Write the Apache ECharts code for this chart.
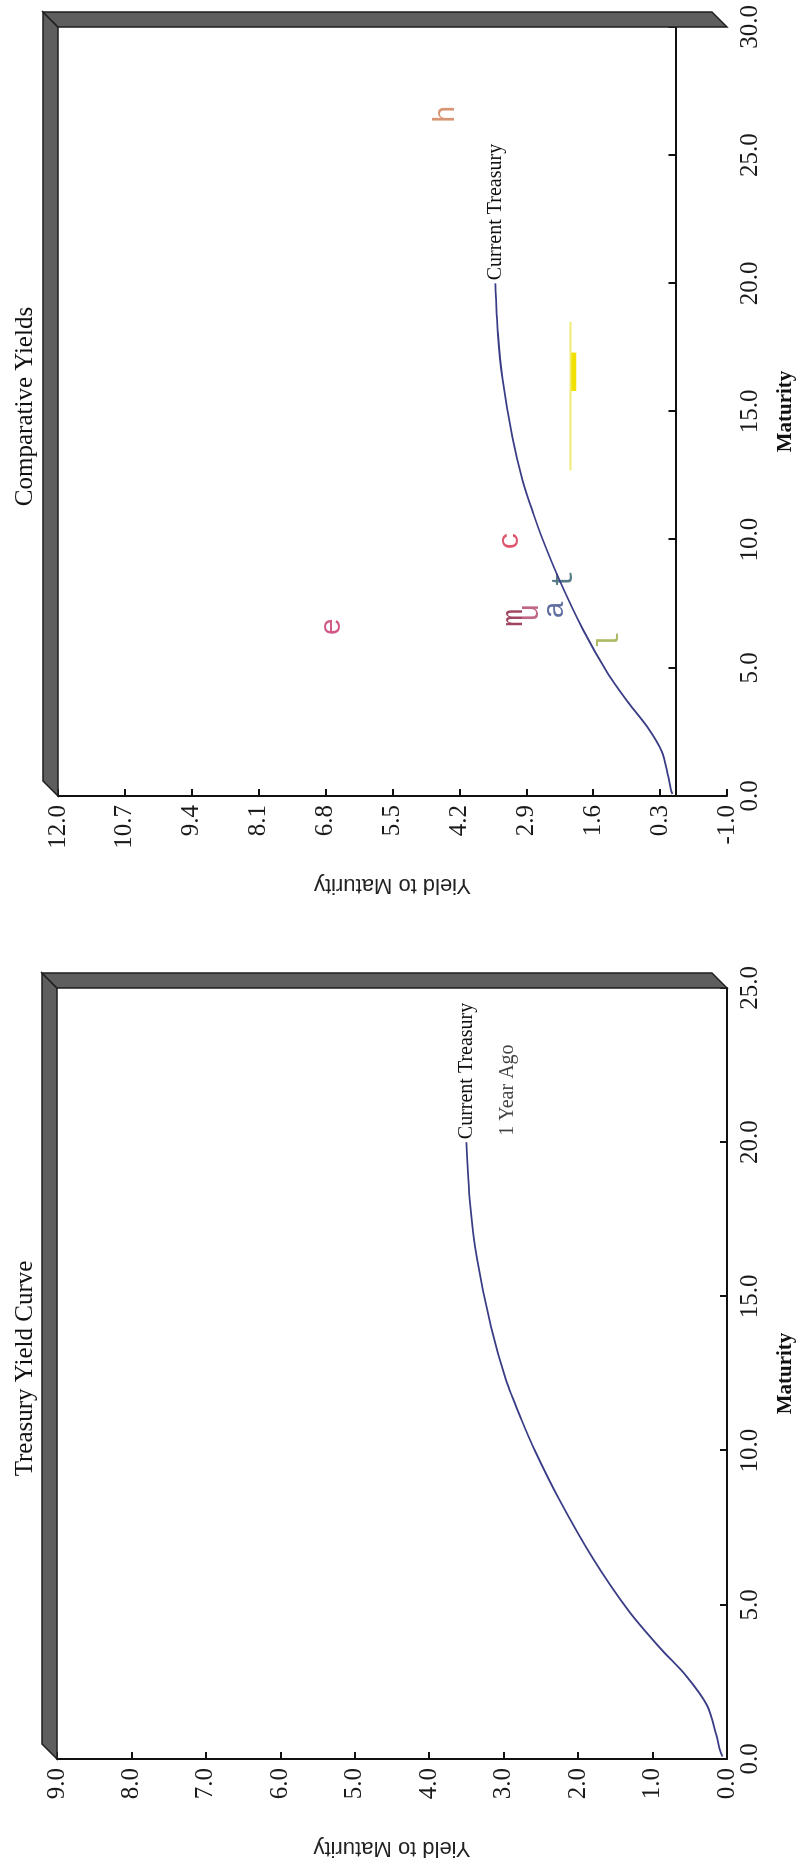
<!DOCTYPE html>
<html><head><meta charset="utf-8">
<script src="https://cdn.jsdelivr.net/npm/echarts@6/dist/echarts.min.js"></script>
<style>
html,body{margin:0;padding:0;background:#fff;overflow:hidden;width:811px;height:1868px;}
#chart{position:absolute;left:0;top:0;width:1868px;height:811px;transform-origin:0 0;transform:translate(0,1868px) rotate(-90deg);background:#fff;}
</style></head><body><div id="chart"></div>
<script>
// ---- data ----
const curveMaturity = [0.08, 0.25, 0.75, 1.75, 2.7, 3.6, 4.8, 6.5, 8.4, 10.0, 11.0, 12.3, 14.0, 16.25, 18.0, 20.0];
const curveYield    = [0.06, 0.09, 0.14, 0.27, 0.55, 0.90, 1.32, 1.80, 2.25, 2.58, 2.76, 2.97, 3.17, 3.36, 3.45, 3.50];
const yearAgoLabelAt = [20.0, 2.95];
const issueLetters  = ['e', 'm', 'u', 'a', 't', 'c', 'l', 'h'];
const issueMaturity = [6.6, 6.95, 7.15, 7.27, 8.48, 9.96, 6.05, 26.6];
const issueYield    = [6.68, 3.13, 2.83, 2.35, 2.16, 3.22, 1.28, 4.45];
const issueColors   = ['#c8306a', '#8a1838', '#b04068', '#3a4a8a', '#2b5a68', '#d82a4a', '#9aa840', '#d07a50'];
const rangeMaturity = [12.7, 18.5];
const rangeYield    = [2.04, 2.04];
const rangeCoreMaturity = [15.8, 17.3];
const rangeCoreYield    = [1.98, 1.98];
const leftTitle = 'Treasury Yield Curve';
const rightTitle = 'Comparative Yields';

// ---- layout ----
const G0 = {left: 109, top: 57, width: 771, height: 670};
const G1 = {left: 1072, top: 58, width: 769, height: 669};
const D = 15;
const serif = 'Liberation Serif';

const chart = echarts.init(document.getElementById('chart'), null, {renderer: 'canvas', width: 1868, height: 811});

function pairs(xs, ys) { return xs.map((x, i) => [x, ys[i]]); }

function xAx(gi, max) {
  return {
    type: 'value', gridIndex: gi, min: 0, max: max, interval: 5,
    name: 'Maturity', nameLocation: 'middle', nameGap: 48,
    nameTextStyle: {fontFamily: serif, fontWeight: 'bold', fontSize: 21, color: '#111'},
    axisLine: {show: true, lineStyle: {color: '#111', width: 2}},
    axisTick: {show: true, inside: true, length: 7, lineStyle: {color: '#111', width: 2}},
    splitLine: {show: false},
    axisLabel: {margin: 11, fontFamily: serif, fontSize: 25, color: '#1a1a1a', formatter: v => v.toFixed(1)}
  };
}
function yAx(gi, min, max, interval) {
  return {
    type: 'value', gridIndex: gi, min: min, max: max, interval: interval,
    name: 'Yield to Maturity', nameLocation: 'middle', nameGap: 78,
    nameTextStyle: {fontFamily: 'Liberation Sans', fontSize: 22, color: '#222'},
    axisLine: {show: true, lineStyle: {color: '#111', width: 2}},
    axisTick: {show: true, inside: true, length: 7, lineStyle: {color: '#111', width: 2}},
    splitLine: {show: false},
    axisLabel: {margin: 9, padding: [0, 0, 16, 0], fontFamily: serif, fontSize: 25, color: '#1a1a1a', formatter: v => v.toFixed(1)}
  };
}

function frame(g) {
  const L = g.left, T = g.top, R = g.left + g.width, B = g.top + g.height;
  const style = {fill: '#5e5e5e', stroke: '#1e1e1e', lineWidth: 1.5};
  return [
    {type: 'polygon', z: 50, shape: {points: [[L, T], [R, T], [R + D, T - D], [L + D, T - D]]}, style: style},
    {type: 'polygon', z: 50, shape: {points: [[R, T], [R + D, T - D], [R + D, B - D], [R, B]]}, style: style}
  ];
}

const curveData = pairs(curveMaturity, curveYield);
const curveStyle = {color: '#3a3d86', width: 1.8};
const endLbl = {show: true, formatter: 'Current Treasury', distance: 3, fontFamily: serif, fontSize: 20, color: '#111'};

const letters = issueLetters.map((l, i) => ({
  value: [issueMaturity[i], issueYield[i]], name: l,
  label: {color: issueColors[i]}
}));

chart.setOption({
  animation: false,
  backgroundColor: '#fff',
  title: [
    {text: leftTitle, left: G0.left + G0.width / 2, top: 8, textAlign: 'center',
     textStyle: {fontFamily: serif, fontWeight: 'normal', fontSize: 25, color: '#111'}},
    {text: rightTitle, left: G1.left + G1.width / 2, top: 8, textAlign: 'center',
     textStyle: {fontFamily: serif, fontWeight: 'normal', fontSize: 25, color: '#111'}}
  ],
  grid: [
    Object.assign({containLabel: false}, G0),
    Object.assign({containLabel: false}, G1)
  ],
  xAxis: [xAx(0, 25), xAx(1, 30)],
  yAxis: [yAx(0, 0, 9, 1), yAx(1, -1, 12, 1.3)],
  series: [
    {type: 'line', name: 'Current Treasury', xAxisIndex: 0, yAxisIndex: 0, data: curveData,
     smooth: 0.3, symbol: 'none', lineStyle: curveStyle, endLabel: endLbl, z: 5},
    {type: 'scatter', name: '1 Year Ago', xAxisIndex: 0, yAxisIndex: 0, data: [yearAgoLabelAt],
     symbolSize: 1, itemStyle: {color: 'rgba(0,0,0,0)'},
     label: {show: true, position: 'right', distance: 6, formatter: '1 Year Ago', fontFamily: serif, fontSize: 20, color: '#111'}},
    {type: 'line', name: 'Range', xAxisIndex: 1, yAxisIndex: 1, data: pairs(rangeMaturity, rangeYield),
     symbol: 'none', lineStyle: {color: '#f0ec78', width: 2}},
    {type: 'line', name: 'RangeCore', xAxisIndex: 1, yAxisIndex: 1, data: pairs(rangeCoreMaturity, rangeCoreYield),
     symbol: 'none', lineStyle: {color: '#f2e000', width: 5}},
    {type: 'line', name: 'Current Treasury 2', xAxisIndex: 1, yAxisIndex: 1, data: curveData,
     smooth: 0.3, symbol: 'none', lineStyle: curveStyle, endLabel: endLbl, z: 5},
    {type: 'scatter', name: 'Issues', xAxisIndex: 1, yAxisIndex: 1, data: letters,
     symbolSize: 1, itemStyle: {color: 'rgba(0,0,0,0)'},
     label: {show: true, position: 'inside', formatter: p => p.name, fontFamily: 'Liberation Mono', fontSize: 30}}
  ],
  graphic: frame(G0).concat(frame(G1))
});
</script></body></html>
